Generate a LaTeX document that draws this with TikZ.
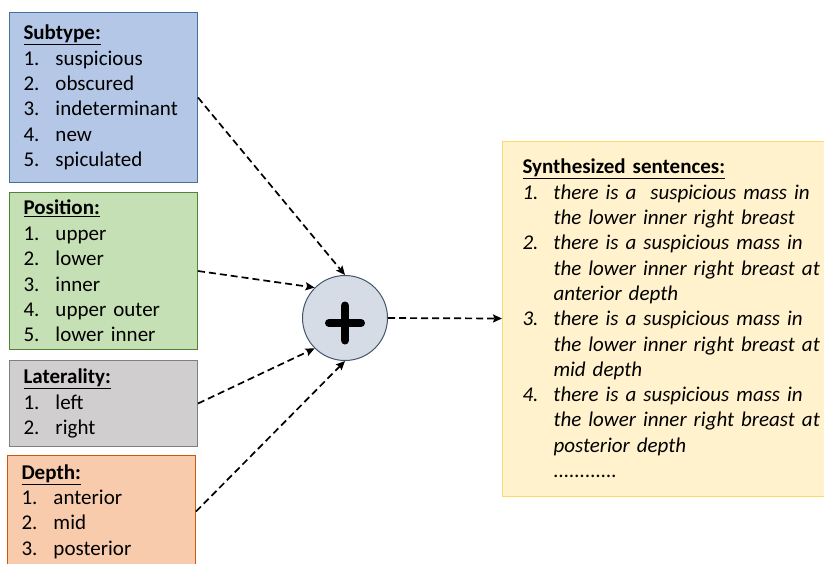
\documentclass[tikz,border=0pt]{standalone}
\usepackage{fontspec}
\setmainfont{Carlito}
\usetikzlibrary{arrows.meta,calc}
\definecolor{bluefill}{HTML}{B4C7E7}
\definecolor{bluedraw}{HTML}{41719C}
\definecolor{greenfill}{HTML}{C5E0B4}
\definecolor{greendraw}{HTML}{548235}
\definecolor{grayfill}{HTML}{D0CECE}
\definecolor{graydraw}{HTML}{7F7F7F}
\definecolor{orangefill}{HTML}{F8CBAD}
\definecolor{orangedraw}{HTML}{C55A11}
\definecolor{yellowfill}{HTML}{FFF2CC}
\definecolor{yellowdraw}{HTML}{FFD966}
\definecolor{circfill}{HTML}{D6DCE5}
\definecolor{circdraw}{HTML}{44546A}
\newcommand{\itm}[2]{\makebox[32pt][l]{#1}#2}
\newcommand{\itmy}[2]{\makebox[31pt][l]{#1}#2}
\newcommand{\hd}[1]{\underline{\textbf{#1}}}
\begin{document}
\begin{tikzpicture}[x=1pt,y=-1pt,
  listbox/.style={draw, line width=1pt, rectangle, inner xsep=14pt, inner ysep=0pt,
    align=left, anchor=north west, text width=160pt, minimum width=188pt,
    font=\fontsize{21}{25.4}\selectfont},
  arr/.style={line width=1.7pt, dash pattern=on 7pt off 4pt,
    -{Stealth[length=9pt,width=8pt,inset=1.5pt]}},
  plusbar/.style={line width=8pt, line cap=round}]
\useasboundingbox (0,0) rectangle (824,563);
\node[listbox, fill=bluefill, draw=bluedraw, minimum height=170pt] (sub) at (9,12)
  {\hd{Subtype:}\\ \itm{1.}{suspicious}\\ \itm{2.}{obscured}\\ \itm{3.}{indeterminant}\\ \itm{4.}{new}\\ \itm{5.}{spiculated}};
\node[listbox, fill=greenfill, draw=greendraw, minimum height=157pt] (pos) at (9,192)
  {\hd{Position:}\\ \itm{1.}{upper}\\ \itm{2.}{lower}\\ \itm{3.}{inner}\\ \itm{4.}{upper outer}\\ \itm{5.}{lower inner}};
\node[listbox, fill=grayfill, draw=graydraw, minimum height=86pt] (lat) at (9,360)
  {\hd{Laterality:}\\ \itm{1.}{left}\\ \itm{2.}{right}};
\node[listbox, fill=orangefill, draw=orangedraw, minimum height=112pt] (dep) at (7,455)
  {\hd{Depth:}\\ \itm{1.}{anterior}\\ \itm{2.}{mid}\\ \itm{3.}{posterior}};
\node[draw=yellowdraw, fill=yellowfill, line width=1pt, rectangle, inner xsep=20pt, inner ysep=0pt,
  align=left, anchor=west, text width=300pt, minimum height=355pt,
  font=\fontsize{21}{25.3}\selectfont\itshape] (syn) at (502,318.5)
  {\hd{\upshape Synthesized sentences:}\\
   \itmy{1.}{there is a~ suspicious mass in}\\
   \hspace*{31pt}the lower inner right breast\\
   \itmy{2.}{there is a suspicious mass in}\\
   \hspace*{31pt}the lower inner right breast at\\
   \hspace*{31pt}anterior depth\\
   \itmy{3.}{there is a suspicious mass in}\\
   \hspace*{31pt}the lower inner right breast at\\
   \hspace*{31pt}mid depth\\
   \itmy{4.}{there is a suspicious mass in}\\
   \hspace*{31pt}the lower inner right breast at\\
   \hspace*{31pt}posterior depth\\
   \hspace*{31pt}............};
\node[circle, draw=circdraw, fill=circfill, line width=1pt, minimum size=85pt, inner sep=0pt] (plus) at (345,318) {};
\draw[plusbar] ($(plus.center)+(0,-12.5)$) -- ($(plus.center)+(0,22.5)$);
\draw[plusbar] ($(plus.center)+(-16,5)$) -- ($(plus.center)+(16,5)$);
\draw[arr] (sub.east) -- (plus.north);
\draw[arr] (pos.east) -- (plus.135);
\draw[arr] (lat.east) -- (plus.225);
\draw[arr] (dep.east) -- (plus.south);
\draw[arr] (plus.east) -- (syn.west);
\end{tikzpicture}
\end{document}
